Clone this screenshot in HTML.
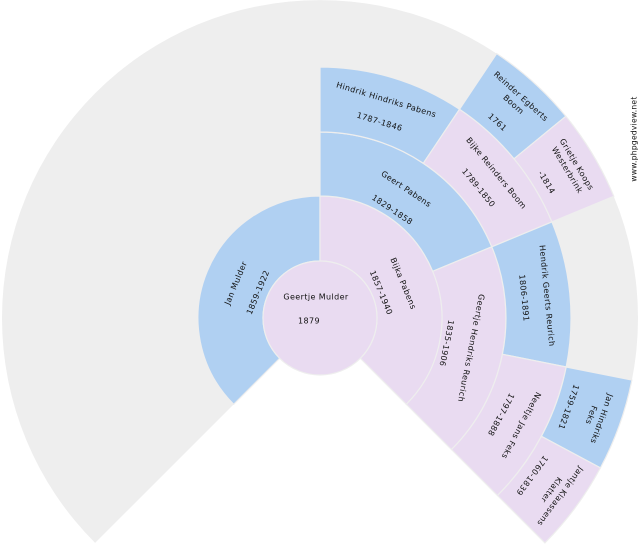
<!DOCTYPE html>
<html><head><meta charset="utf-8"><style>
html,body{margin:0;padding:0;background:#fff;}
svg{display:block;}
text{font-family:"DejaVu Sans","Liberation Sans",sans-serif;font-size:8px;fill:#111;text-anchor:middle;dominant-baseline:central;letter-spacing:0.4px;}
.b{fill:#b0d0f2;stroke:#eeeeee;stroke-width:1.2;}
.p{fill:#e9dbf1;stroke:#eeeeee;stroke-width:1.2;}
</style></head><body>
<svg width="640" height="550" viewBox="0 0 640 550" xmlns="http://www.w3.org/2000/svg">
<path d="M320,318 L95.1,542.9 A318,318 0 1,1 544.9,542.9 Z" fill="#eeeeee"/>
<!-- gen2 -->
<path class="b" d="M233.7,404.3 A122,122 0 0,1 320,196 L320,261 A57,57 0 0,0 279.7,358.3 Z"/>
<path class="p" d="M320,196 A122,122 0 0,1 406.3,404.3 L360.3,358.3 A57,57 0 0,0 320,261 Z"/>
<!-- gen3 -->
<path class="b" d="M320,132 A186,186 0 0,1 491.8,246.8 L432.7,271.3 A122,122 0 0,0 320,196 Z"/>
<path class="p" d="M491.8,246.8 A186,186 0 0,1 451.5,449.5 L406.3,404.3 A122,122 0 0,0 432.7,271.3 Z"/>
<!-- gen4 -->
<path class="b" d="M320,67 A251,251 0 0,1 459.5,109.3 L423.3,163.3 A186,186 0 0,0 320,132 Z"/>
<path class="p" d="M459.5,109.3 A251,251 0 0,1 551.9,221.9 L491.8,246.8 A186,186 0 0,0 423.3,163.3 Z"/>
<path class="b" d="M551.9,221.9 A251,251 0 0,1 566.2,367.0 L502.4,354.3 A186,186 0 0,0 491.8,246.8 Z"/>
<path class="p" d="M566.2,367.0 A251,251 0 0,1 497.5,495.5 L451.5,449.5 A186,186 0 0,0 502.4,354.3 Z"/>
<!-- gen5 -->
<path class="b" d="M496.7,53.6 A318,318 0 0,1 565.8,116.3 L514.0,158.8 A251,251 0 0,0 459.5,109.3 Z"/>
<path class="p" d="M565.8,116.3 A318,318 0 0,1 613.8,196.3 L551.9,221.9 A251,251 0 0,0 514.0,158.8 Z"/>
<path class="b" d="M631.9,380.0 A318,318 0 0,1 600.4,467.9 L541.4,436.3 A251,251 0 0,0 566.2,367.0 Z"/>
<path class="p" d="M600.4,467.9 A318,318 0 0,1 544.9,542.9 L497.5,495.5 A251,251 0 0,0 541.4,436.3 Z"/>
<!-- center -->
<circle cx="320" cy="318" r="57" class="p"/>
<text x="316" y="297">Geertje Mulder</text>
<text x="309" y="321">1879</text>

<g transform="translate(320,318)">
<g transform="rotate(-67.5)"><text y="-91">Jan Mulder</text><text y="-67">1859-1922</text></g>
<g transform="rotate(67.5)"><text y="-90">Bijka Pabens</text><text y="-66">1857-1940</text></g>
<g transform="rotate(33.75)"><text y="-155">Geert Pabens</text><text y="-130">1829-1858</text></g>
<g transform="rotate(101.25)"><text y="-154">Geertje Hendriks Reurich</text><text y="-129">1835-1906</text></g>
<g transform="rotate(16.9)"><text y="-228">Hindrik Hindriks Pabens</text><text y="-205">1787-1846</text></g>
<g transform="rotate(50.6)"><text y="-228">Bijke Reinders Boom</text><text y="-205">1789-1850</text></g>
<g transform="rotate(84.4)"><text y="-228">Hendrik Geerts Reurich</text><text y="-205">1806-1891</text></g>
<g transform="rotate(118.1)"><text y="-228">Neeltje Jans Feks</text><text y="-205">1797-1888</text></g>
<g transform="rotate(42.2)"><text y="-299">Reinder Egberts</text><text y="-288">Boom</text><text y="-264">1761</text></g>
<g transform="rotate(59.1)"><text y="-299">Grietje Koops</text><text y="-288">Westerbrink</text><text y="-264">-1814</text></g>
<g transform="rotate(109.7)"><text y="-299">Jan Hindriks</text><text y="-288">Feks</text><text y="-264">1759-1821</text></g>
<g transform="rotate(126.6)"><text y="-299">Jantje Klaassens</text><text y="-288">Klatter</text><text y="-264">1760-1839</text></g>
</g>
<text transform="translate(634,139) rotate(-90)" style="font-size:7.5px;letter-spacing:0.3px">www.phpgedview.net</text>
</svg>
</body></html>
